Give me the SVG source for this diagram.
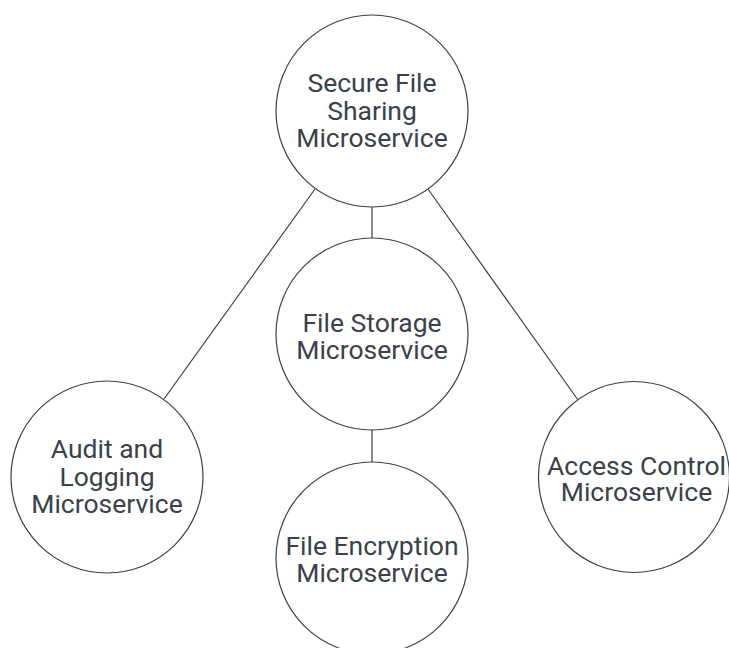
<svg xmlns="http://www.w3.org/2000/svg" width="729" height="648" viewBox="0 0 729 648">
<style>
.node circle{fill:#ffffff;stroke:#3a414a;stroke-width:1.2}
.node text{font-family:Roboto,"Liberation Sans",sans-serif;font-size:26.5px;fill:#3a414a;text-anchor:middle}
.edges line{stroke:#3a414a;stroke-width:1.2}
</style>
<rect width="729" height="648" fill="#ffffff"/>
<g class="edges">
<line x1="315" y1="189" x2="164" y2="399"/>
<line x1="372" y1="207" x2="372" y2="238"/>
<line x1="428" y1="189" x2="578" y2="400"/>
<line x1="372" y1="430" x2="372" y2="462"/>
</g>
<g id="secure" class="node">
<circle cx="372" cy="111" r="96"/>
<text x="372" y="92">Secure File</text>
<text x="372" y="119.5">Sharing</text>
<text x="372" y="147">Microservice</text>
</g>
<g id="storage" class="node">
<circle cx="372" cy="334" r="96"/>
<text x="372" y="331.5">File Storage</text>
<text x="372" y="359">Microservice</text>
</g>
<g id="audit" class="node">
<circle cx="107" cy="477" r="96"/>
<text x="107" y="458">Audit and</text>
<text x="107" y="485.5">Logging</text>
<text x="107" y="513">Microservice</text>
</g>
<g id="access" class="node">
<circle cx="634" cy="477" r="95.5"/>
<text x="636.5" y="475">Access Control</text>
<text x="636.5" y="501">Microservice</text>
</g>
<g id="encryption" class="node">
<circle cx="372" cy="558" r="96"/>
<text x="372" y="554.5">File Encryption</text>
<text x="372" y="582">Microservice</text>
</g>
</svg>
